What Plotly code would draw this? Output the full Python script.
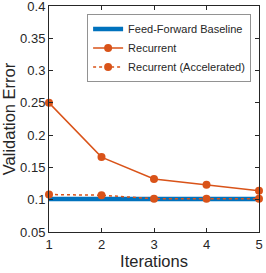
import plotly.graph_objects as go

iterations = [1, 2, 3, 4, 5]
baseline = [0.101, 0.101, 0.101, 0.101, 0.101]
recurrent = [0.250, 0.166, 0.132, 0.123, 0.114]
recurrent_acc = [0.108, 0.107, 0.1015, 0.1015, 0.1015]
yticks = [0.05, 0.1, 0.15, 0.2, 0.25, 0.3, 0.35, 0.4]
yticklabels = ["0.05", "0.1", "0.15", "0.2", "0.25", "0.3", "0.35", "0.4"]

blue = "#0072BD"
orange = "#D95319"

fig = go.Figure()
fig.add_trace(go.Scatter(x=iterations, y=baseline, mode="lines",
                         line=dict(color=blue, width=4.5),
                         name="Feed-Forward Baseline", cliponaxis=False))
fig.add_trace(go.Scatter(x=iterations, y=recurrent, mode="lines+markers",
                         line=dict(color=orange, width=1.5),
                         marker=dict(color=orange, size=8),
                         name="Recurrent", cliponaxis=False))
fig.add_trace(go.Scatter(x=iterations, y=recurrent_acc, mode="lines+markers",
                         line=dict(color=orange, width=1.5, dash="dot"),
                         marker=dict(color=orange, size=8),
                         name="Recurrent (Accelerated)", cliponaxis=False))

font = "Liberation Sans, Arial, sans-serif"
axis_common = dict(showline=True, linecolor="#262626", linewidth=1, mirror="ticks",
                   ticks="inside", ticklen=4, tickcolor="#262626", showgrid=False,
                   zeroline=False, ticklabeloverflow="allow", automargin=False,
                   tickfont=dict(family=font, size=13, color="#262626"))

fig.update_layout(
    width=266, height=273,
    margin=dict(l=49, r=7, t=6, b=41, autoexpand=False),
    plot_bgcolor="white", paper_bgcolor="white",
    showlegend=True,
    legend=dict(x=0.96, y=0.965, xanchor="right", yanchor="top",
                bgcolor="white", bordercolor="#262626", borderwidth=0.5,
                font=dict(family=font, size=11, color="#262626"),
                tracegroupgap=0, itemwidth=30),
    xaxis=dict(range=[0.99999, 5.00001], tickvals=iterations, ticktext=[str(i) for i in iterations],
               title=dict(text="Iterations", font=dict(family=font, size=16.5, color="#262626"),
                          standoff=3),
               **axis_common),
    yaxis=dict(range=[0.0499999, 0.4000001], tickvals=yticks, ticktext=yticklabels,
               title=dict(text="Validation Error", font=dict(family=font, size=16.5, color="#262626"),
                          standoff=3),
               **axis_common),
)

fig.write_html("out.html", config={"displayModeBar": False},
               post_script="document.body.style.margin='0';document.body.style.overflow='hidden';")
